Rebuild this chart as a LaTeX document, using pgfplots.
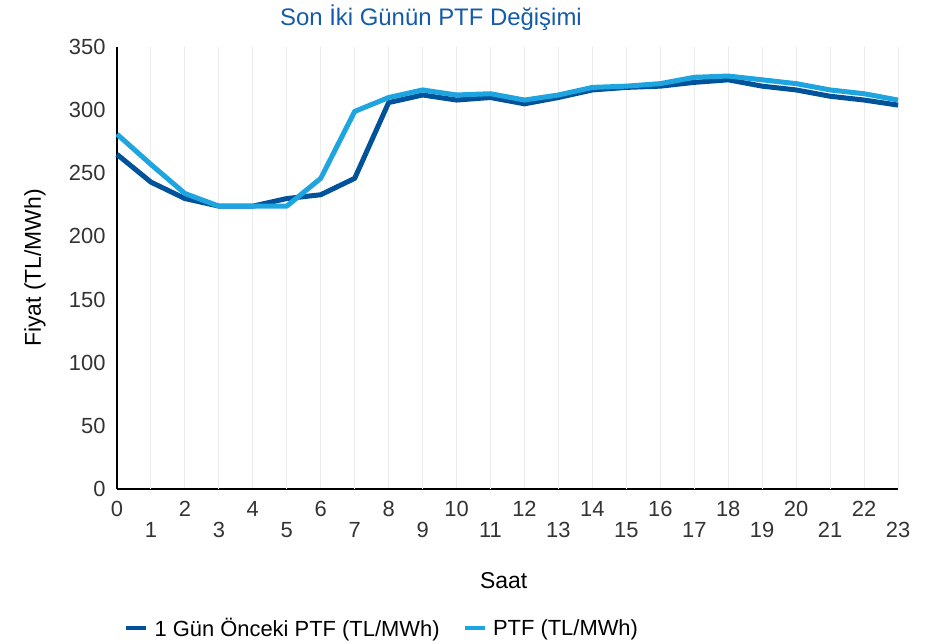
\documentclass[border=0pt]{standalone}
\usepackage{pgfplots}
\pgfplotsset{compat=1.18}
\usepackage{fontspec}
\setmainfont{Liberation Sans}
\definecolor{darkb}{RGB}{0,82,155}
\definecolor{lightb}{RGB}{30,165,224}
\definecolor{titleb}{RGB}{20,90,170}
\begin{document}
\begin{tikzpicture}
\begin{axis}[
  scale only axis, width=781bp, height=442bp,
  xmin=0, xmax=23, ymin=0, ymax=350,
  axis lines*=left,
  axis line style={black, line width=1.2bp},
  xtick={0,2,...,22},
  extra x ticks={1,3,...,23},
  extra x tick style={grid=major, xticklabel style={yshift=-21bp}},
  ytick={0,50,...,350},
  major tick length=0pt,
  xmajorgrids,
  grid style={gray!15, line width=1bp},
  tick label style={font=\fontsize{22}{26}\selectfont, text=black!80},
  /pgf/number format/assume math mode=true,
  xticklabel style={yshift=-9bp},
  yticklabel style={xshift=-8bp},
  legend columns=2,
  legend style={draw=none, fill=none, at={(rel axis cs:0.005,-0.315)}, anchor=west,
    font=\fontsize{22}{26}\selectfont,
    /tikz/every odd column/.append style={column sep=4bp},
    /tikz/every even column/.append style={column sep=21bp}},
  legend image code/.code={\draw[#1, line width=4.5bp] (0bp,0bp) -- (20bp,0bp);},
  clip=false,
]
\addplot[darkb, line width=5bp, line join=round] coordinates {
(0,265)(1,243)(2,230)(3,224)(4,224)(5,230)(6,233)(7,246)(8,306)(9,312)(10,308)(11,310)
(12,305)(13,310)(14,316)(15,318)(16,319)(17,322)(18,324)(19,319)(20,316)(21,311)(22,308)(23,304)};
\addlegendentry{1 Gün Önceki PTF (TL/MWh)}
\addplot[lightb, line width=5bp, line join=round] coordinates {
(0,281)(1,257)(2,234)(3,224)(4,224)(5,224)(6,246)(7,299)(8,310)(9,316)(10,312)(11,313)
(12,308)(13,312)(14,318)(15,319)(16,321)(17,326)(18,327)(19,324)(20,321)(21,316)(22,313)(23,308)};
\addlegendentry{PTF (TL/MWh)}
\node[font=\fontsize{24}{28}\selectfont, text=titleb, anchor=base] at ([yshift=22bp]rel axis cs:0.402,1) {Son İki Günün PTF Değişimi};
\node[font=\fontsize{23}{27}\selectfont, rotate=90, anchor=center] at ([xshift=-82bp]rel axis cs:0,0.5) {Fiyat (TL/MWh)};
\node[font=\fontsize{23}{27}\selectfont, anchor=base] at ([yshift=-99bp]rel axis cs:0.495,0) {Saat};
\path (rel axis cs:0,0) ++(-117bp,-155bp) rectangle ++(938bp,644bp);
\end{axis}
\end{tikzpicture}
\end{document}
